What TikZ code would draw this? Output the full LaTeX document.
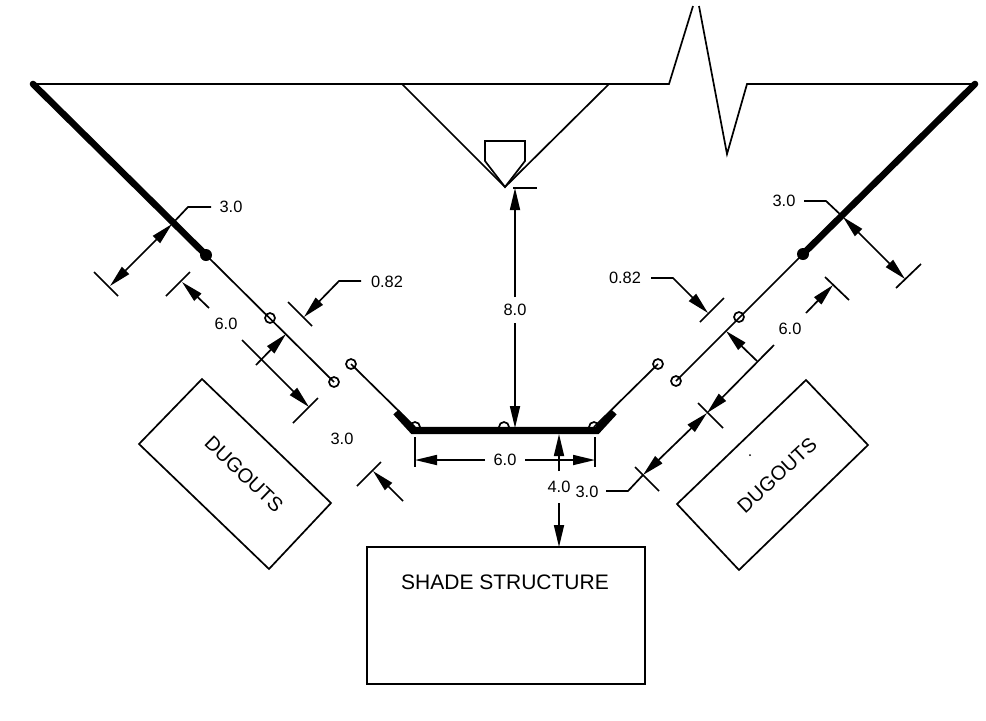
\documentclass[tikz,border=0pt]{standalone}
\usepackage{fontspec}
\setmainfont{Liberation Sans}
\usetikzlibrary{arrows.meta}
\tikzset{
    >={Triangle[length=11pt,width=5pt]},
    thinline/.style={line width=0.85pt},
    heavyline/.style={line width=3.3pt},
    curbline/.style={line width=3.6pt},
    dimtext/.style={font=\fontsize{8.2}{10}\selectfont,inner sep=0pt},
    labeltext/.style={font=\fontsize{10.5}{12}\selectfont,inner sep=0pt},
    dugouttext/.style={font=\fontsize{10}{12}\selectfont,inner sep=0pt},
}
\begin{document}
\begin{tikzpicture}[x=0.5pt,y=-0.5pt]
    \useasboundingbox (0,0) rectangle (986,720);
    % field outline
    \coordinate (plate) at (505,187);
    \coordinate (foulL) at (33,84);
    \coordinate (foulR) at (975,84);
    \coordinate (postL) at (206,255);
    \coordinate (postR) at (803,254);
    \draw[thinline] (foulL) -- (669,84) -- (693,6);
    \draw[thinline] (699,6) -- (727,154) -- (747,84) -- (foulR);
    \draw[thinline] (402,84) -- (plate) -- (609,84);
    \draw[thinline] (485,141) -- (525,141) -- (525,161) -- (plate) -- (485,161) -- cycle;
    % fence lines
    \coordinate (holeA) at (270,318);
    \coordinate (holeB) at (334,382);
    \coordinate (holeC) at (351,364);
    \coordinate (holeD) at (415,427);
    \coordinate (holeE) at (504,427);
    \coordinate (holeF) at (594,427);
    \coordinate (holeG) at (658,364);
    \coordinate (holeH) at (676,381);
    \coordinate (holeI) at (739,317);
    \draw[thinline] (postL) -- (holeB);
    \draw[thinline] (holeC) -- (holeD);
    \draw[thinline] (holeG) -- (holeF);
    \draw[thinline] (holeH) -- (postR);
    \foreach \h in {holeA,holeB,holeC,holeD,holeE,holeF,holeG,holeH,holeI}
        \draw[thinline] (\h) circle (5);
    \draw[heavyline,line cap=round] (foulL) -- (postL);
    \draw[heavyline,line cap=round] (foulR) -- (postR);
    \fill (postL) circle (6);
    \fill (postR) circle (6);
    \draw[curbline,line join=miter] (396,412) -- (413,430.5) -- (597,430.5) -- (614,412);
    % dugouts and shade structure
    \draw[thinline] (202,379) -- (331,503) -- (269,569) -- (139,444) -- cycle;
    \draw[thinline] (806,380) -- (868,445) -- (739,570) -- (677,504) -- cycle;
    \draw[thinline] (367,547) rectangle (645,684);
    \node[dugouttext,rotate=-44] (dugoutL) at (244,474) {DUGOUTS};
    \node[dugouttext,rotate=43] (dugoutR) at (777,475) {DUGOUTS};
    \node[labeltext] (shade) at (505,582) {SHADE STRUCTURE};
    \fill (750,455) circle (1);
    % center dimensions
    \node[dimtext] (backstop) at (515,310) {8.0};
    \draw[thinline] (513,188) -- (537,188);
    \draw[thinline,->] (515,297) -- (515,188);
    \draw[thinline,->] (515,323) -- (515,428);
    \node[dimtext] (width) at (505,460) {6.0};
    \draw[thinline] (415,437) -- (415,467);
    \draw[thinline] (595,437) -- (595,467);
    \draw[thinline,->] (485,460) -- (415,460);
    \draw[thinline,->] (525,460) -- (595,460);
    \node[dimtext] (shadegap) at (559,487) {4.0};
    \draw[thinline,->] (559,471) -- (559,434);
    \draw[thinline,->] (559,503) -- (559,547);
    \draw[thinline] (547,547) -- (581,547);
    % left dimensions
    \node[dimtext] (leftA) at (231,207) {3.0};
    \draw[thinline] (94,272) -- (118,296);
    \draw[thinline,<->] (172,224) -- (110,286);
    \draw[thinline] (172,224) -- (188,207) -- (211,207);
    \node[dimtext] (leftB) at (226,324) {6.0};
    \draw[thinline] (166,296) -- (190,272);
    \draw[thinline,->] (209,308) -- (182,282);
    \draw[thinline,->] (242,340) -- (309,407);
    \draw[thinline] (293,423) -- (318,398);
    \draw[thinline,->] (256,365) -- (286,334);
    \node[dimtext] (leftC) at (387,282) {0.82};
    \draw[thinline] (288,302) -- (312,326);
    \draw[thinline,->] (361,281) -- (339,281) -- (304,317);
    \node[dimtext] (leftD) at (342,439) {3.0};
    \draw[thinline] (357,486) -- (381,462);
    \draw[thinline,->] (403,501) -- (373,471);
    % right dimensions
    \node[dimtext] (rightA) at (784,201) {3.0};
    \draw[thinline] (804,201) -- (826,201) -- (843,217);
    \draw[thinline,<->] (843,217) -- (905,279);
    \draw[thinline] (896,288) -- (921,264);
    \node[dimtext] (rightB) at (625,278) {0.82};
    \draw[thinline,->] (651,278) -- (673,278) -- (708,313);
    \draw[thinline] (700,322) -- (724,298);
    \node[dimtext] (rightC) at (790,329) {6.0};
    \draw[thinline] (825,277) -- (849,300);
    \draw[thinline,->] (806,313) -- (833,285);
    \draw[thinline,->] (774,345) -- (707,413);
    \draw[thinline,->] (757,361) -- (726,331);
    \draw[thinline] (698,403) -- (723,428);
    \draw[thinline,<->] (707,413) -- (643,475);
    \draw[thinline] (635,467) -- (659,491);
    \node[dimtext] (rightD) at (587,492) {3.0};
    \draw[thinline] (643,475) -- (628,491) -- (606,491);
\end{tikzpicture}
\end{document}
